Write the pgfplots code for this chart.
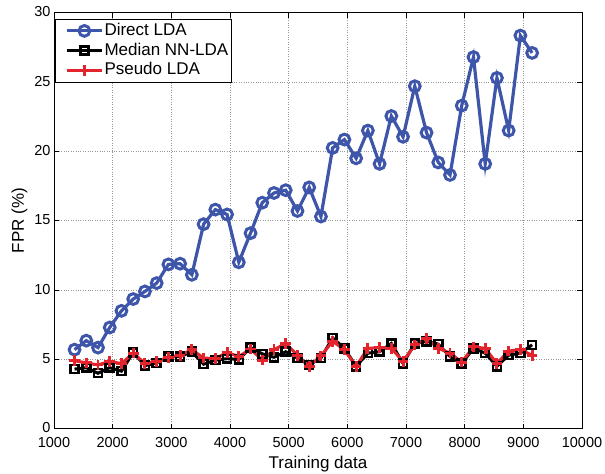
\documentclass[border=0pt]{standalone}
\usepackage{fontspec}
\setmainfont{Liberation Sans}
\usepackage{pgfplots}
\usepackage{pgfplotstable}
\pgfplotsset{compat=1.18}
\definecolor{ldablue}{RGB}{62,86,170}
\definecolor{pseudored}{RGB}{228,36,44}

% FPR per training-set size: Direct LDA, Median NN-LDA, Pseudo LDA
\pgfplotstableread{
x     direct  median  pseudo
1350  5.70    4.30    4.90
1550  6.35    4.40    4.75
1750  5.85    4.00    4.60
1950  7.30    4.40    4.85
2150  8.50    4.15    4.70
2350  9.35    5.50    5.45
2550  9.90    4.55    4.70
2750  10.50   4.75    4.85
2950  11.85   5.20    5.15
3150  11.90   5.20    5.30
3350  11.10   5.55    5.70
3550  14.75   4.65    5.10
3750  15.80   4.95    5.05
3950  15.45   5.05    5.50
4150  12.00   5.00    5.20
4350  14.10   5.85    5.75
4550  16.30   5.40    4.95
4750  17.00   5.15    5.70
4950  17.20   5.55    6.15
5150  15.70   5.10    5.30
5350  17.40   4.60    4.50
5550  15.30   5.10    5.25
5750  20.25   6.55    6.30
5950  20.85   5.80    5.70
6150  19.50   4.50    4.50
6350  21.50   5.45    5.80
6550  19.10   5.55    5.85
6750  22.55   6.15    5.80
6950  21.05   4.70    4.85
7150  24.70   6.15    6.05
7350  21.35   6.30    6.50
7550  19.20   6.10    5.80
7750  18.30   5.20    5.45
7950  23.30   4.70    4.80
8150  26.80   5.80    5.90
8350  19.10   5.45    5.80
8550  25.30   4.50    4.70
8750  21.50   5.30    5.60
8950  28.35   5.45    5.70
9150  27.10   6.05    5.30
}\fprdata

\begin{document}
\begin{tikzpicture}
\begin{axis}[
  scale only axis,
  width=528pt, height=416pt,
  xmin=1000, xmax=10000, ymin=0, ymax=30,
  xtick={1000,2000,...,10000},
  ytick={0,5,...,30},
  scaled x ticks=false,
  xticklabel style={/pgf/number format/1000 sep={}, yshift=-5pt},
  yticklabel style={yshift=1pt},
  /pgf/number format/assume math mode=true,
  tick align=inside,
  major tick length=5pt,
  tick style={black, line width=0.5pt},
  axis line style={black, line width=0.6pt},
  grid=major,
  grid style={dotted, gray!80, line width=0.6pt},
  tick label style={font=\fontsize{14.5}{14.5}\selectfont},
  label style={font=\fontsize{17}{17}\selectfont},
  xlabel={Training data},
  xlabel style={yshift=-1.5pt},
  ylabel={FPR (\%)},
  legend style={at={(0,1)}, anchor=north west, xshift=1pt, yshift=-6.5pt,
    font=\fontsize{17}{17}\selectfont, draw=black, line width=0.6pt,
    inner xsep=2pt, inner ysep=2.5pt, row sep=2pt, cells={anchor=west},
    nodes={inner sep=1pt, text height=12.3pt, text depth=3.5pt}},
  legend image code/.code={%
    \path (0pt,0pt);
    \draw[mark repeat=2, mark phase=2]
      plot coordinates {(8pt,0pt) (25.5pt,0pt) (43pt,0pt)};},
]
\addplot[ldablue, line width=3.2pt, mark=o, mark size=5.4pt,
  mark options={fill=white, line width=3pt}]
  table[x=x, y=direct] {\fprdata};
\addlegendentry{Direct LDA}
\addplot[black, line width=3pt, mark=square, mark size=4pt,
  mark options={fill=white, line width=2.5pt}]
  table[x=x, y=median] {\fprdata};
\addlegendentry{Median NN-LDA}
\addplot[pseudored, line width=3pt, mark=+, mark size=5.3pt,
  mark options={line width=2.9pt}]
  table[x=x, y=pseudo] {\fprdata};
\addlegendentry{Pseudo LDA}
\end{axis}
\pgfresetboundingbox
\path[use as bounding box]
  ([shift={(-54pt,-45pt)}]current axis.south west)
  rectangle ([shift={(23pt,12.7pt)}]current axis.north east);
\end{tikzpicture}
\end{document}
